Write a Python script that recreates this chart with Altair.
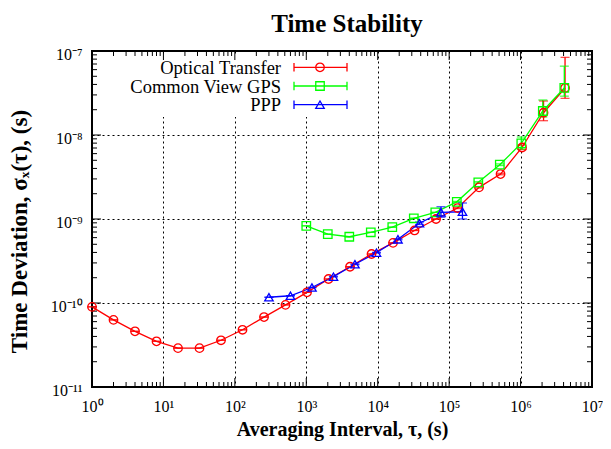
import altair as alt
import pandas as pd

# ---------------- data ----------------
series_names = ["Optical Transfer", "Common View GPS", "PPP"]
series_colors = ["#ff0000", "#00ff00", "#0000ff"]
series_shapes = ["circle", "square", "triangle-up"]

ot_tau = [1, 2, 4, 8, 16, 32, 64, 128, 256, 512, 1024, 2048, 4096, 8192, 16384,
          32768, 65536, 131072, 262144, 524288, 1048576, 2097152, 4194304]
ot_val = [9.0e-11, 6.3e-11, 4.6e-11, 3.5e-11, 2.9e-11, 2.9e-11, 3.6e-11, 4.8e-11,
          6.8e-11, 9.5e-11, 1.34e-10, 1.93e-10, 2.7e-10, 3.83e-10, 5.2e-10, 7.3e-10,
          1.0e-9, 1.35e-9, 2.38e-9, 3.43e-9, 7.1e-9, 1.84e-8, 3.63e-8]
ot_lo = [9.0e-11, 6.3e-11, 4.6e-11, 3.5e-11, 2.9e-11, 2.9e-11, 3.6e-11, 4.8e-11,
         6.8e-11, 9.5e-11, 1.34e-10, 1.93e-10, 2.7e-10, 3.83e-10, 5.2e-10, 7.3e-10,
         1.0e-9, 1.33e-9, 2.34e-9, 3.36e-9, 6.7e-9, 1.48e-8, 2.73e-8]
ot_hi = [9.0e-11, 6.3e-11, 4.6e-11, 3.5e-11, 2.9e-11, 2.9e-11, 3.6e-11, 4.8e-11,
         6.8e-11, 9.5e-11, 1.34e-10, 1.93e-10, 2.7e-10, 3.83e-10, 5.2e-10, 7.3e-10,
         1.0e-9, 1.37e-9, 2.42e-9, 3.5e-9, 7.6e-9, 2.54e-8, 8.4e-8]

cv_tau = [1000, 2000, 4000, 8000, 16000, 32000, 64000, 128000, 256000, 512000,
          1024000, 2048000, 4096000]
cv_val = [8.3e-10, 6.6e-10, 6.15e-10, 6.95e-10, 8.0e-10, 1.02e-9, 1.2e-9, 1.6e-9,
          2.73e-9, 4.43e-9, 7.96e-9, 1.93e-8, 3.63e-8]
cv_lo = [8.3e-10, 6.6e-10, 6.15e-10, 6.95e-10, 8.0e-10, 1.02e-9, 1.2e-9, 1.58e-9,
         2.68e-9, 4.33e-9, 6.8e-9, 1.64e-8, 2.9e-8]
cv_hi = [8.3e-10, 6.6e-10, 6.15e-10, 6.95e-10, 8.0e-10, 1.02e-9, 1.2e-9, 1.62e-9,
         2.78e-9, 4.53e-9, 9.47e-9, 2.61e-8, 6.6e-8]

ppp_tau = [300, 600, 1200, 2400, 4800, 9600, 19200, 38400, 76800, 153600]
ppp_val = [1.17e-10, 1.22e-10, 1.53e-10, 2.06e-10, 2.89e-10, 3.97e-10, 5.73e-10,
           8.9e-10, 1.2e-9, 1.22e-9]
ppp_lo = [1.17e-10, 1.22e-10, 1.52e-10, 2.04e-10, 2.86e-10, 3.93e-10, 5.65e-10,
          8.6e-10, 1.05e-9, 1.0e-9]
ppp_hi = [1.17e-10, 1.22e-10, 1.54e-10, 2.08e-10, 2.92e-10, 4.01e-10, 5.81e-10,
          9.2e-10, 1.4e-9, 1.55e-9]

x_major = [1e0, 1e1, 1e2, 1e3, 1e4, 1e5, 1e6, 1e7]
x_labels = ["10⁰", "10¹", "10²", "10³", "10⁴", "10⁵", "10⁶", "10⁷"]
x_exps = [0, 1, 2, 3, 4, 5, 6, 7]
y_major = [1e-11, 1e-10, 1e-9, 1e-8, 1e-7]
y_labels = ["10⁻¹¹", "10⁻¹⁰", "10⁻⁹", "10⁻⁸", "10⁻⁷"]
y_exps = [-11, -10, -9, -8, -7]
x_minor = [m * d for d in [1e0, 1e1, 1e2, 1e3, 1e4, 1e5, 1e6] for m in range(2, 10)]
y_minor = [m * d for d in [1e-11, 1e-10, 1e-9, 1e-8] for m in range(2, 10)]

# ---------------- tables ----------------
rows = []
for name, tau, val, lo, hi in [
    (series_names[0], ot_tau, ot_val, ot_lo, ot_hi),
    (series_names[1], cv_tau, cv_val, cv_lo, cv_hi),
    (series_names[2], ppp_tau, ppp_val, ppp_lo, ppp_hi),
]:
    for t, v, l, h in zip(tau, val, lo, hi):
        rows.append({"series": name, "tau": t, "val": v, "lo": l, "hi": h})
df = pd.DataFrame(rows)
legend_df = pd.DataFrame({"series": series_names, "row": [0, 1, 2]})

W, H = 500, 336
FONT = "Liberation Serif"

xs = alt.Scale(type="log", domain=[1, 1e7], nice=False)
ys = alt.Scale(type="log", domain=[1e-11, 1e-7], nice=False)
cs = alt.Scale(domain=series_names, range=series_colors)
ss = alt.Scale(domain=series_names, range=series_shapes)


def lab_expr(exps, labels):
    e = "round(log(datum.value)/LN10)"
    parts = [f"{e} == {k} ? '{lab}'" for k, lab in zip(exps, labels)]
    return " : ".join(parts) + " : ''"


x_axis = alt.Axis(values=x_major, labelExpr=lab_expr(x_exps, x_labels),
                  grid=True, gridDash=[2, 3], gridColor="black", gridOpacity=1,
                  gridWidth=1, ticks=False, tickSize=0, domain=False,
                  labelFont=FONT, labelFontSize=16, labelColor="black",
                  labelPadding=24, labelBaseline="alphabetic",
                  labelFlush=False, labelOverlap=False,
                  title="Averaging Interval, τ, (s)", titleFont=FONT,
                  titleFontSize=20, titleFontWeight="bold", titleColor="black",
                  titleX=W / 2, titleY=48, titleBaseline="alphabetic")
y_axis = alt.Axis(values=y_major, labelExpr=lab_expr(y_exps, y_labels),
                  grid=True, gridDash=[2, 3], gridColor="black", gridOpacity=1,
                  gridWidth=1, ticks=False, tickSize=0, domain=False,
                  labelFont=FONT, labelFontSize=16, labelColor="black",
                  labelPadding=10, labelBaseline="alphabetic", labelOffset=8,
                  labelFlush=False, labelOverlap=False,
                  title="Time Deviation, σₓ(τ), (s)", titleFont=FONT,
                  titleFontSize=23, titleFontWeight="bold", titleColor="black",
                  titleX=-66, titleY=180, titleAngle=270,
                  titleBaseline="alphabetic", titleAlign="center")


def X(field):
    return alt.X(field, scale=xs, axis=x_axis)


def Y(field):
    return alt.Y(field, scale=ys, axis=y_axis)


base = alt.Chart(df)
color_enc = alt.Color("series:N", scale=cs, legend=None)
shape_enc = alt.Shape("series:N", scale=ss, legend=None)

lines = base.mark_line(strokeWidth=1.3).encode(
    x=X("tau:Q"), y=Y("val:Q"), color=color_enc, detail="series:N")
err = base.mark_rule(strokeWidth=1.3).encode(
    x=X("tau:Q"), y=Y("lo:Q"), y2="hi:Q", color=color_enc)
cap_lo = base.mark_tick(orient="horizontal", size=9, thickness=1.3).encode(
    x=X("tau:Q"), y=Y("lo:Q"), color=color_enc)
cap_hi = base.mark_tick(orient="horizontal", size=9, thickness=1.3).encode(
    x=X("tau:Q"), y=Y("hi:Q"), color=color_enc)
pts = base.mark_point(filled=False, size=72, strokeWidth=1.3, opacity=1).encode(
    x=X("tau:Q"), y=Y("val:Q"), color=color_enc, shape=shape_enc)

# legend background (opaque key box)
key_box = alt.Chart(legend_df).mark_rect(color="white").encode(
    x=alt.value(35), x2=alt.value(265), y=alt.value(3), y2=alt.value(66))

# inward ticks on all four sides
tick_layers = []
for vals, ln in [(x_major, 9), (x_minor, 5)]:
    d = alt.Chart(pd.DataFrame({"v": vals}))
    tick_layers.append(d.mark_rule(color="black", strokeWidth=1).encode(
        x=X("v:Q"), y=alt.value(H), y2=alt.value(H - ln)))
    tick_layers.append(d.mark_rule(color="black", strokeWidth=1).encode(
        x=X("v:Q"), y=alt.value(0), y2=alt.value(ln)))
for vals, ln in [(y_major, 9), (y_minor, 5)]:
    d = alt.Chart(pd.DataFrame({"v": vals}))
    tick_layers.append(d.mark_rule(color="black", strokeWidth=1).encode(
        y=Y("v:Q"), x=alt.value(0), x2=alt.value(ln)))
    tick_layers.append(d.mark_rule(color="black", strokeWidth=1).encode(
        y=Y("v:Q"), x=alt.value(W), x2=alt.value(W - ln)))

# frame
frame = alt.Chart(legend_df).mark_rect(fill=None, stroke="black", strokeWidth=2).encode(
    x=alt.value(0), x2=alt.value(W), y=alt.value(0), y2=alt.value(H))

# legend entries
leg = alt.Chart(legend_df).transform_calculate(
    ly="16.3 + datum.row * 18.7", ty="23 + datum.row * 18.7",
    ly0="12 + datum.row * 18.7", ly1="20.6 + datum.row * 18.7")
leg_text = leg.mark_text(align="right", baseline="alphabetic", font=FONT,
                         fontSize=18.5, color="black").encode(
    x=alt.value(189), y=alt.Y("ty:Q", scale=None), text="series:N")
leg_line = leg.mark_rule(strokeWidth=1.3).encode(
    x=alt.value(202), x2=alt.value(255),
    y=alt.Y("ly:Q", scale=None), color=color_enc)
leg_cap1 = leg.mark_rule(strokeWidth=1.3).encode(
    x=alt.value(202), y=alt.Y("ly0:Q", scale=None), y2="ly1:Q",
    color=color_enc)
leg_cap2 = leg.mark_rule(strokeWidth=1.3).encode(
    x=alt.value(255), y=alt.Y("ly0:Q", scale=None), y2="ly1:Q",
    color=color_enc)
leg_pt = leg.mark_point(filled=False, size=72, strokeWidth=1.3, opacity=1).encode(
    x=alt.value(228), y=alt.Y("ly:Q", scale=None), color=color_enc,
    shape=shape_enc)

chart = alt.layer(
    lines, key_box, *tick_layers, frame, err, cap_lo, cap_hi, pts,
    leg_text, leg_line, leg_cap1, leg_cap2, leg_pt,
).properties(
    width=W, height=H,
    title=alt.TitleParams("Time Stability", font=FONT, fontSize=25,
                          fontWeight="bold", color="black", anchor="middle",
                          offset=9, dx=5),
    autosize=alt.AutoSizeParams(type="none"),
    padding={"left": 84, "top": 43, "right": 11, "bottom": 54},
).configure_view(stroke=None).configure(background="white")

chart.save("out.html", embed_options={"renderer": "svg", "actions": False})
